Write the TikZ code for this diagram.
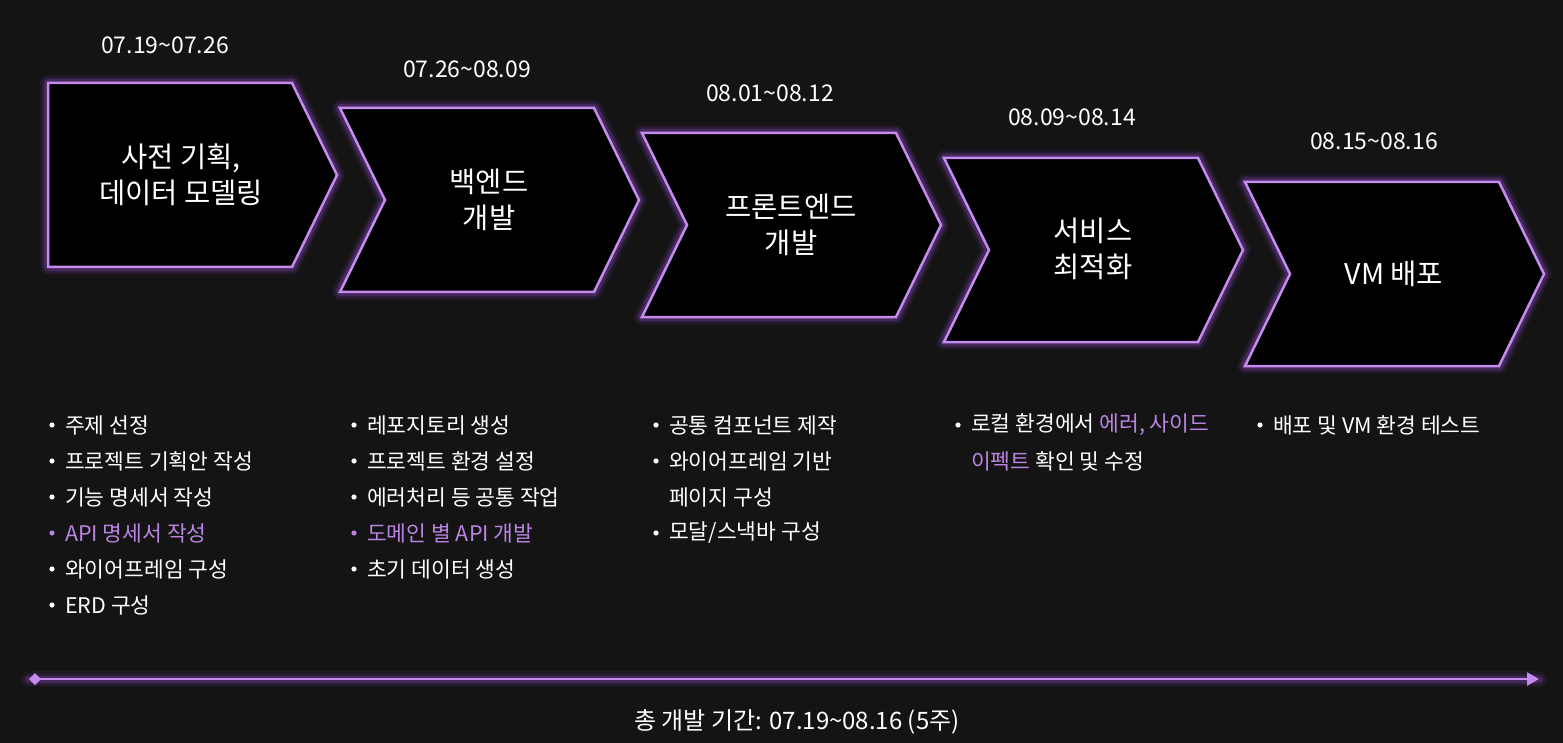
\documentclass[tikz,border=0pt]{standalone}
\usepackage{fontspec}
\setmainfont{Noto Sans CJK KR}
\usetikzlibrary{arrows.meta}

\definecolor{bgc}{HTML}{141414}
\definecolor{lilac}{HTML}{C68BEE}
\definecolor{glowc}{HTML}{A050DC}
\definecolor{hilite}{HTML}{B984E2}

% chevron: left, top, body width, notch depth
\newcommand{\chevron}[4]{%
  \foreach \gw/\go in {16/.07,12/.12,8/.22}
    \draw[glowc, line width=\gw pt, draw opacity=\go, line join=round]
      (#1,#2) -- ++(#3,0) -- ++(45,92) -- ++(-45,92) -- ++(-#3,0) -- ++(#4,-92) -- cycle;
  \draw[lilac, line width=2.5pt, fill=black, line join=miter]
    (#1,#2) -- ++(#3,0) -- ++(45,92) -- ++(-45,92) -- ++(-#3,0) -- ++(#4,-92) -- cycle;
}

\begin{document}
\begin{tikzpicture}[x=1pt,y=-1pt,
    phase/.style={text=white, align=center, font=\fontsize{28.5}{36}\selectfont},
    datelbl/.style={text=white, font=\fontsize{23}{26}\selectfont},
    item/.style={text=white, anchor=west, inner sep=0pt, font=\fontsize{21.5}{36}\selectfont}]
  \fill[bgc] (0,0) rectangle (1563,743);
  \useasboundingbox (0,0) rectangle (1563,743);

  % the five phases
  \chevron{48}{83}{244}{0}
  \foreach \l/\t in {340/108,642/133,944/158,1245/182} {
    \chevron{\l}{\t}{254}{45}
  }

  \node[phase] (plan)   at (181,175)  {사전 기획,\\데이터 모델링};
  \node[phase] (back)   at (489,200)  {백엔드\\개발};
  \node[phase] (front)  at (791,225)  {프론트엔드\\개발};
  \node[phase] (opt)    at (1093,249) {서비스\\최적화};
  \node[phase] (deploy) at (1394,274) {VM 배포};

  % dates
  \node[datelbl] (d1) at (165,45)  {07.19\textasciitilde07.26};
  \node[datelbl] (d2) at (467,69)  {07.26\textasciitilde08.09};
  \node[datelbl] (d3) at (770,93)  {08.01\textasciitilde08.12};
  \node[datelbl] (d4) at (1072,117) {08.09\textasciitilde08.14};
  \node[datelbl] (d5) at (1374,141) {08.15\textasciitilde08.16};

  % task lists
  \foreach \c/\txt [count=\i] in {white/주제 선정, white/프로젝트 기획안 작성,
      white/기능 명세서 작성, hilite/API 명세서 작성, white/와이어프레임 구성, white/ERD 구성} {
    \fill[\c] (52,389+36*\i) circle (2.6pt);
    \node[item, text=\c] (plan-\i) at (65,389+36*\i) {\txt};
  }
  \foreach \c/\txt [count=\i] in {white/레포지토리 생성, white/프로젝트 환경 설정,
      white/에러처리 등 공통 작업, hilite/도메인 별 API 개발, white/초기 데이터 생성} {
    \fill[\c] (354,389+36*\i) circle (2.6pt);
    \node[item, text=\c] (back-\i) at (367,389+36*\i) {\txt};
  }
  \foreach \y in {425,461,533} \fill[white] (656,\y) circle (2.6pt);
  \node[item] (front-1) at (669,425) {공통 컴포넌트 제작};
  \node[item] (front-2) at (669,461) {와이어프레임 기반};
  \node[item] (front-2b) at (669,497) {페이지 구성};
  \node[item] (front-3) at (669,533) {모달/스낵바 구성};

  \fill[white] (958,425) circle (2.6pt);
  \node[item] (opt-1) at (971,425) {로컬 환경에서 \textcolor{hilite}{에러, 사이드}};
  \node[item] (opt-1b) at (971,461) {\textcolor{hilite}{이펙트} 확인 및 수정};

  \fill[white] (1260,425) circle (2.6pt);
  \node[item] (deploy-1) at (1273,425) {배포 및 VM 환경 테스트};

  % total period
  \coordinate (start) at (29,679);
  \coordinate (end) at (1539,679);
  \foreach \gw/\go in {16/.07,11/.12,7/.2}
    \draw[glowc, line width=\gw pt, draw opacity=\go, line cap=round] (start) -- (end);
  \draw[lilac, line width=2.5pt, {Diamond[length=12pt,width=12pt]}-{Triangle[length=12pt,width=13pt]}] (start) -- (end);
  \node[datelbl, font=\fontsize{24}{26}\selectfont] (total) at (797,722) {총 개발 기간: 07.19\textasciitilde08.16 (5주)};
\end{tikzpicture}
\end{document}
